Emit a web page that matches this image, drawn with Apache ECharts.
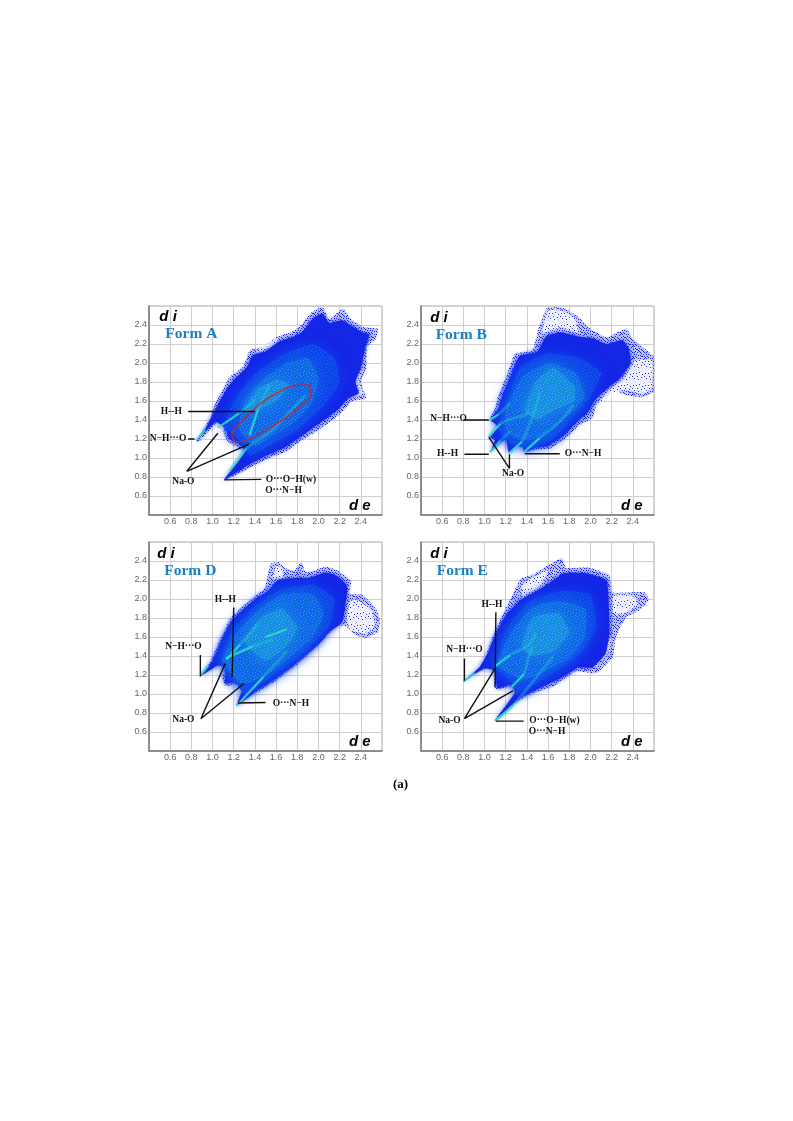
<!DOCTYPE html>
<html><head><meta charset="utf-8">
<style>html,body{margin:0;padding:0;background:#fff}#c{width:793px;height:1121px;filter:blur(0.5px)}</style>
<script src="https://cdn.jsdelivr.net/npm/echarts@6/dist/echarts.min.js"></script>
</head><body><div id="c"></div>
<script>
const tickLabels=[0.6,0.8,1.0,1.2,1.4,1.6,1.8,2.0,2.2,2.4];
const formNames=['Form A','Form B','Form D','Form E'];

// Outer speckled envelope of each fingerprint (de, di)
const outlineA=[[1.11,.77],[1.23,.93],[1.30,1.07],[1.35,1.13],[1.26,1.10],[1.16,1.16],[1.11,1.24],[1.10,1.33],[1.04,1.37],[.96,1.28],[.87,1.17],[.84,1.17],[.90,1.28],[.98,1.42],[1.02,1.56],[1.09,1.70],[1.16,1.85],[1.29,1.96],[1.35,2.13],[1.48,2.17],[1.60,2.27],[1.73,2.32],[1.82,2.38],[1.93,2.53],[2.04,2.59],[2.10,2.46],[2.23,2.57],[2.31,2.46],[2.42,2.38],[2.56,2.36],[2.54,2.25],[2.46,2.18],[2.45,1.94],[2.40,1.80],[2.45,1.63],[2.32,1.60],[2.23,1.49],[2.10,1.37],[1.98,1.28],[1.82,1.17],[1.70,1.07],[1.54,1.00],[1.41,.93],[1.29,.86],[1.13,.77]];
const outlineB=[[1.05,1.40],[1.10,1.52],[1.13,1.66],[1.21,1.87],[1.29,2.10],[1.45,2.13],[1.51,2.36],[1.59,2.58],[1.74,2.58],[1.87,2.50],[2.00,2.36],[2.15,2.27],[2.34,2.36],[2.40,2.25],[2.60,2.06],[2.60,1.70],[2.49,1.64],[2.34,1.66],[2.24,1.70],[2.06,1.57],[2.02,1.42],[1.90,1.35],[1.77,1.21],[1.62,1.10],[1.49,1.09],[1.38,1.06],[1.34,1.16],[1.29,1.16],[1.23,1.05],[1.22,1.16],[1.18,1.21],[1.05,1.06],[1.12,1.17],[1.04,1.22],[1.12,1.33]];
const outlineD=[[.88,1.19],[.98,1.34],[1.05,1.53],[1.16,1.78],[1.26,1.90],[1.41,2.04],[1.49,2.11],[1.55,2.37],[1.62,2.39],[1.68,2.33],[1.77,2.30],[1.84,2.39],[1.88,2.28],[2.07,2.34],[2.18,2.30],[2.31,2.19],[2.29,2.06],[2.42,2.04],[2.54,1.90],[2.58,1.78],[2.56,1.65],[2.45,1.59],[2.35,1.62],[2.26,1.71],[2.17,1.72],[2.07,1.60],[1.98,1.50],[1.85,1.36],[1.73,1.25],[1.57,1.12],[1.41,1.01],[1.26,.91],[1.22,.87],[1.29,1.08],[1.23,1.10],[1.12,1.09],[1.09,1.18],[1.12,1.29],[1.05,1.31]];
const outlineE=[[.79,1.13],[.91,1.24],[.99,1.32],[1.02,1.43],[1.09,1.64],[1.18,1.85],[1.27,2.06],[1.34,2.21],[1.46,2.26],[1.59,2.35],[1.73,2.43],[1.77,2.33],[1.99,2.33],[2.18,2.25],[2.20,2.07],[2.40,2.07],[2.51,2.07],[2.55,1.99],[2.46,1.88],[2.34,1.81],[2.24,1.60],[2.21,1.39],[2.06,1.22],[1.87,1.24],[1.74,1.15],[1.65,1.08],[1.46,1.01],[1.30,.91],[1.12,.72],[1.09,.715],[1.29,1.01],[1.26,1.08],[1.12,1.05],[1.09,1.08],[1.10,1.25],[1.02,1.27]];

// Thin speckle patches inside the envelope
const thinA=[[[1.4,2.1],[1.6,2.2],[1.62,2.27],[1.45,2.15]],[[2.3,1.65],[2.42,1.68],[2.38,1.8],[2.42,1.93],[2.36,1.85]]];
const thinB=[[[1.55,2.32],[1.72,2.38],[1.88,2.32],[1.85,2.48],[1.72,2.55],[1.6,2.55]],[[2.08,1.58],[2.3,1.72],[2.5,1.68],[2.58,1.74],[2.58,2.02],[2.42,2.02],[2.32,1.84],[2.18,1.72]]];
const thinD=[[[1.58,2.22],[1.66,2.22],[1.66,2.32],[1.6,2.35]],[[2.3,1.68],[2.45,1.64],[2.53,1.72],[2.5,1.88],[2.38,1.98],[2.3,1.98],[2.27,1.8]]];
const thinE=[[[1.36,2.02],[1.52,2.14],[1.6,2.3],[1.45,2.22],[1.36,2.15]],[[2.22,1.85],[2.32,1.85],[2.45,1.95],[2.4,2.03],[2.22,2.03]],[[2.05,1.28],[2.16,1.42],[2.2,1.58],[2.12,1.55],[2.05,1.38]]];

// Dense blue body
const bodyA=[[.85,1.18],[.93,1.30],[1.02,1.50],[1.12,1.70],[1.2,1.82],[1.32,1.95],[1.38,2.08],[1.5,2.12],[1.62,2.22],[1.75,2.27],[1.85,2.33],[1.95,2.47],[2.04,2.52],[2.1,2.42],[2.22,2.45],[2.3,2.4],[2.42,2.32],[2.48,2.3],[2.44,2.15],[2.4,1.95],[2.35,1.8],[2.38,1.68],[2.28,1.63],[2.2,1.53],[2.08,1.42],[1.95,1.32],[1.8,1.2],[1.68,1.11],[1.5,1.02],[1.33,.92],[1.11,.77],[1.30,1.05],[1.28,1.13],[1.16,1.20],[1.12,1.32],[1.03,1.38]];
const bodyB=[[1.06,1.41],[1.13,1.52],[1.17,1.66],[1.25,1.87],[1.33,2.07],[1.5,2.12],[1.58,2.28],[1.72,2.32],[1.88,2.28],[2.02,2.26],[2.15,2.2],[2.3,2.24],[2.36,2.16],[2.38,2.0],[2.28,1.84],[2.18,1.75],[2.05,1.62],[1.97,1.47],[1.87,1.38],[1.75,1.24],[1.6,1.13],[1.49,1.11],[1.38,1.07],[1.34,1.18],[1.23,1.06],[1.2,1.2],[1.06,1.07],[1.1,1.2],[1.05,1.22],[1.13,1.33]];
const bodyD=[[.89,1.19],[1.0,1.35],[1.07,1.53],[1.18,1.77],[1.28,1.88],[1.43,2.02],[1.52,2.08],[1.62,2.2],[1.8,2.22],[1.9,2.22],[2.07,2.28],[2.18,2.24],[2.27,2.14],[2.25,1.9],[2.22,1.75],[2.1,1.65],[2.0,1.52],[1.85,1.38],[1.73,1.27],[1.57,1.14],[1.41,1.03],[1.23,.88],[1.29,1.08],[1.2,1.12],[1.12,1.11],[1.12,1.28],[1.05,1.3]];
const bodyE=[[.8,1.13],[.95,1.28],[1.03,1.43],[1.1,1.62],[1.2,1.83],[1.33,1.98],[1.55,2.12],[1.75,2.27],[1.95,2.27],[2.15,2.2],[2.17,2.0],[2.18,1.65],[2.14,1.42],[2.02,1.28],[1.88,1.28],[1.74,1.18],[1.46,1.03],[1.3,.93],[1.1,.72],[1.29,1.02],[1.25,1.1],[1.12,1.06],[1.1,1.24],[1.0,1.27]];

// Medium blue zone
const midA=[[1.12,1.33],[1.2,1.6],[1.4,1.88],[1.65,2.08],[1.95,2.2],[2.15,2.05],[2.2,1.8],[2.05,1.55],[1.8,1.3],[1.55,1.14],[1.35,1.02],[1.3,1.15]];
const midB=[[1.13,1.3],[1.2,1.55],[1.33,1.95],[1.6,2.1],[1.9,2.05],[2.1,1.9],[2.0,1.65],[1.85,1.45],[1.65,1.2],[1.42,1.1],[1.25,1.15]];
const midD=[[1.08,1.35],[1.18,1.65],[1.4,1.92],[1.65,2.1],[1.95,2.15],[2.15,2.0],[2.1,1.72],[1.85,1.42],[1.55,1.18],[1.3,1.0],[1.22,1.12]];
const midE=[[1.1,1.28],[1.22,1.7],[1.42,1.97],[1.7,2.08],[2.0,2.05],[2.05,1.7],[1.9,1.42],[1.55,1.15],[1.3,1.0],[1.25,1.14]];

// Lighter inner zone
const coreA=[[1.25,1.3],[1.3,1.6],[1.5,1.85],[1.7,2.0],[1.9,2.05],[2.0,1.85],[1.95,1.6],[1.8,1.4],[1.55,1.22],[1.4,1.12]];
const coreB=[[1.2,1.3],[1.2,1.5],[1.35,1.85],[1.6,2.0],[1.85,1.9],[1.95,1.65],[1.75,1.4],[1.5,1.2],[1.3,1.2]];
const coreD=[[1.1,1.35],[1.2,1.6],[1.4,1.85],[1.65,2.05],[1.95,2.05],[2.05,1.85],[1.95,1.6],[1.75,1.4],[1.55,1.22],[1.35,1.12],[1.25,1.12]];
const coreE=[[1.12,1.3],[1.25,1.65],[1.45,1.92],[1.7,1.98],[1.95,1.9],[1.95,1.6],[1.8,1.38],[1.5,1.2],[1.35,1.15]];

// Brightest centre
const hotA=[[1.3,1.5],[1.42,1.72],[1.6,1.82],[1.72,1.78],[1.6,1.6],[1.42,1.5]];
const hotB=[[1.38,1.5],[1.48,1.8],[1.65,1.95],[1.85,1.75],[1.85,1.6],[1.65,1.5],[1.5,1.4]];
const hotD=[[1.3,1.55],[1.45,1.8],[1.65,1.9],[1.8,1.7],[1.7,1.5],[1.5,1.35]];
const hotE=[[1.35,1.5],[1.45,1.8],[1.7,1.85],[1.8,1.65],[1.65,1.45],[1.45,1.4]];

// Bright spikes
const ridgesA=[[[1.05,1.32],[1.25,1.47],[1.40,1.61]],[[1.16,.86],[1.32,1.10],[1.57,1.30],[1.73,1.49],[1.88,1.66]],[[1.35,1.24],[1.43,1.51],[1.54,1.77]],[[.85,1.19],[.93,1.30]]];
const ridgesB=[[[1.05,1.40],[1.13,1.46],[1.24,1.58]],[[1.04,1.22],[1.15,1.36],[1.37,1.45],[1.43,1.48]],[[1.05,1.06],[1.15,1.18],[1.24,1.28]],[[1.23,1.05],[1.35,1.17],[1.41,1.31],[1.48,1.52],[1.52,1.70]],[[1.38,1.07],[1.52,1.21],[1.68,1.35],[1.84,1.56]]];
const ridgesD=[[[.89,1.2],[.96,1.3]],[[1.13,1.36],[1.26,1.52],[1.43,1.74]],[[1.13,1.38],[1.38,1.50],[1.57,1.57]],[[1.23,.88],[1.48,1.18],[1.70,1.45]],[[1.5,1.6],[1.7,1.68]]];
const ridgesE=[[[.80,1.13],[.91,1.22]],[[1.10,1.29],[1.24,1.41],[1.41,1.51],[1.49,1.64]],[[1.26,1.08],[1.37,1.21],[1.41,1.36],[1.45,1.50]],[[1.10,.72],[1.27,.88],[1.52,1.22],[1.65,1.40]]];

// Black leader lines
const leadersA=[[[.77,1.49],[1.40,1.49]],[[.77,1.20],[.83,1.20]],[[1.05,1.26],[.757,.86],[1.345,1.147]],[[1.11,.77],[1.46,.775]]];
const leadersB=[[[.80,1.40],[1.04,1.40]],[[.81,1.04],[1.04,1.04]],[[1.04,1.22],[1.235,.89],[1.235,1.04]],[[1.38,1.045],[1.71,1.045]]];
const leadersD=[[[1.20,1.91],[1.185,1.18]],[[.885,1.41],[.885,1.185]],[[1.12,1.32],[.89,.74],[1.295,1.11]],[[1.24,.905],[1.50,.91]]];
const leadersE=[[[1.107,1.86],[1.10,1.08]],[[.81,1.375],[.81,1.14]],[[1.10,1.27],[.81,.74],[1.27,1.035]],[[1.107,.715],[1.37,.715]]];

// Bond labels: de, di, text
const notesA=[[.61,1.49,'H--H'],[.58,1.20,'N−H···O'],[.725,.75,'Na-O'],[1.74,.775,'O···O−H(w)'],[1.67,.66,'O···N−H']];
const notesB=[[.66,1.42,'N−H···O'],[.65,1.05,'H--H'],[1.27,.84,'Na-O'],[1.93,1.045,'O···N−H']];
const notesD=[[1.12,1.99,'H--H'],[.725,1.50,'N−H···O'],[.725,.73,'Na-O'],[1.74,.90,'O···N−H']];
const notesE=[[1.07,1.94,'H--H'],[.81,1.47,'N−H···O'],[.67,.725,'Na-O'],[1.66,.72,'O···O−H(w)'],[1.59,.61,'O···N−H']];

// Red ellipse on Form A
const ellipseA=[[1.18,1.23],[1.24,1.17],[1.35,1.20],[1.51,1.30],[1.66,1.40],[1.82,1.54],[1.93,1.68],[1.90,1.77],[1.77,1.76],[1.60,1.68],[1.43,1.55],[1.29,1.40],[1.20,1.29],[1.18,1.23]];

const panels=[
 {o:outlineA,t:thinA,b:bodyA,m:midA,c:coreA,h:hotA,r:ridgesA,l:leadersA,n:notesA,g:[149,306],title:[.80,2.31],di:[.58,2.49],de:[2.39,.50]},
 {o:outlineB,t:thinB,b:bodyB,m:midB,c:coreB,h:hotB,r:ridgesB,l:leadersB,n:notesB,g:[421,306],title:[.78,2.30],di:[.57,2.48],de:[2.39,.50]},
 {o:outlineD,t:thinD,b:bodyD,m:midD,c:coreD,h:hotD,r:ridgesD,l:leadersD,n:notesD,g:[149,542],title:[.79,2.29],di:[.56,2.48],de:[2.39,.50]},
 {o:outlineE,t:thinE,b:bodyE,m:midE,c:coreE,h:hotE,r:ridgesE,l:leadersE,n:notesE,g:[421,542],title:[.79,2.30],di:[.57,2.48],de:[2.39,.50]}
];

function stipple(color,spots,size){
  const cv=document.createElement('canvas');cv.width=cv.height=size;
  const x=cv.getContext('2d');x.fillStyle=color;
  spots.forEach(s=>x.fillRect(s[0],s[1],1,1));
  return {image:cv,repeat:'repeat'};
}
const sparseSpots=[[0,1],[3,0],[6,2],[9,1],[1,4],[5,5],[8,4],[10,6],[2,7],[6,8],[9,9],[0,9],[4,10],[7,11],[11,3],[3,3]];
const denseSpots=sparseSpots.concat([[1,1],[7,6],[4,7],[10,10],[2,2],[8,8],[5,1],[11,0],[4,4],[0,6],[7,3],[10,4],[2,10],[8,10],[5,8],[11,8]]);
const blueDots=stipple('#1422ea',denseSpots,12);
const thinDots=stipple('#1a2cea',sparseSpots.slice(0,9),12);
const midDots=stipple('rgba(40,120,240,.7)',sparseSpots,12);
const lightDots=stipple('rgba(50,170,235,.8)',sparseSpots,12);
const brightDots=stipple('rgba(50,215,220,.75)',sparseSpots,12);

function poly(pts,i,style){
  return {type:'custom',xAxisIndex:i,yAxisIndex:i,clip:true,silent:true,data:pts,
    encode:{x:0,y:1},
    renderItem:function(p,api){
      if(p.dataIndex!==0)return null;
      return {type:'polygon',shape:{points:pts.map(q=>api.coord(q)),smooth:0.15},style:style};
    }};
}
function textSeries(rows,i,font,color){
  return {type:'custom',xAxisIndex:i,yAxisIndex:i,clip:false,silent:true,data:rows.map(r=>[r[0],r[1]]),
    encode:{x:0,y:1},z:9,
    renderItem:function(p,api){
      const c=api.coord([api.value(0),api.value(1)]);
      return {type:'text',x:c[0],y:c[1],style:{text:rows[p.dataIndex][2],font:font,fill:color,align:'center',verticalAlign:'middle'}};
    }};
}
const grids=[],xAxes=[],yAxes=[],series=[];
const fmt=v=>{const s=(+v).toFixed(1);return tickLabels.some(t=>t.toFixed(1)===s)?s:'';};
panels.forEach((p,i)=>{
  grids.push({left:p.g[0],top:p.g[1],width:233,height:209,show:true,borderColor:'#a8a8a8',borderWidth:1,backgroundColor:'#fff'});
  const ax={min:0.4,max:2.6,interval:0.2,type:'value',gridIndex:i,
    axisLine:{show:true,onZero:false,lineStyle:{color:'#777',width:1.5}},axisTick:{show:false},
    splitLine:{show:true,lineStyle:{color:'#cfcfcf',width:1}},
    axisLabel:{color:'#666',fontSize:9,fontFamily:'Liberation Sans',margin:2,formatter:fmt,hideOverlap:false,showMinLabel:true,showMaxLabel:true}};
  xAxes.push(Object.assign({},ax));
  yAxes.push(Object.assign({},ax));
  series.push(poly(p.o,i,{fill:'rgba(40,60,235,.3)'}));
  series.push(poly(p.o,i,{fill:blueDots}));
  p.t.forEach(t=>{
    series.push(poly(t,i,{fill:'rgba(255,255,255,.75)',shadowBlur:4,shadowColor:'rgba(255,255,255,.6)'}));
    series.push(poly(t,i,{fill:thinDots}));
  });
  series.push(poly(p.b,i,{fill:'#1426e6',shadowBlur:5,shadowColor:'rgba(20,38,230,.8)'}));
  series.push(poly(p.m,i,{fill:'#0f42ea',shadowBlur:14,shadowColor:'#0f42ea'}));
  series.push(poly(p.m,i,{fill:midDots}));
  series.push(poly(p.c,i,{fill:'#1166e8',shadowBlur:16,shadowColor:'#1166e8'}));
  series.push(poly(p.c,i,{fill:lightDots}));
  series.push(poly(p.h,i,{fill:'#1a8ae4',shadowBlur:14,shadowColor:'#1a8ae4'}));
  series.push(poly(p.h,i,{fill:brightDots}));
  p.r.forEach(r=>{
    series.push({type:'line',xAxisIndex:i,yAxisIndex:i,data:r,smooth:0.4,symbol:'none',silent:true,z:4,
      lineStyle:{color:'#2bd0d0',width:3,opacity:.35}});
    series.push({type:'line',xAxisIndex:i,yAxisIndex:i,data:r.slice(0,2),symbol:'none',silent:true,z:4,
      lineStyle:{color:'#2fe0c0',width:1.6,opacity:.9}});
  });
  p.l.forEach(r=>series.push({type:'line',xAxisIndex:i,yAxisIndex:i,data:r,symbol:'none',silent:true,z:6,
    lineStyle:{color:'#111',width:1.4}}));
  series.push(textSeries(p.n,i,'bold 9.5px "Liberation Serif"','#111'));
  series.push(textSeries([[p.title[0],p.title[1],formNames[i]]],i,'bold 15.5px "Liberation Serif"','#1b7fc4'));
  series.push(textSeries([[p.di[0],p.di[1],'d i']],i,'italic bold 15px "Liberation Sans"','#000'));
  series.push(textSeries([[p.de[0],p.de[1],'d e']],i,'italic bold 15px "Liberation Sans"','#000'));
});
series.push({type:'line',xAxisIndex:0,yAxisIndex:0,data:ellipseA,smooth:0.5,symbol:'none',silent:true,z:5,
  lineStyle:{color:'#c8262c',width:1.3}});

const chart=echarts.init(document.getElementById('c'),null,{renderer:'canvas'});
chart.setOption({animation:false,backgroundColor:'#fff',
  title:{text:'(a)',left:388,top:773,textStyle:{fontFamily:'Liberation Serif',fontWeight:'bold',fontSize:13,color:'#000'}},
  grid:grids,xAxis:xAxes,yAxis:yAxes,series:series});
</script></body></html>
